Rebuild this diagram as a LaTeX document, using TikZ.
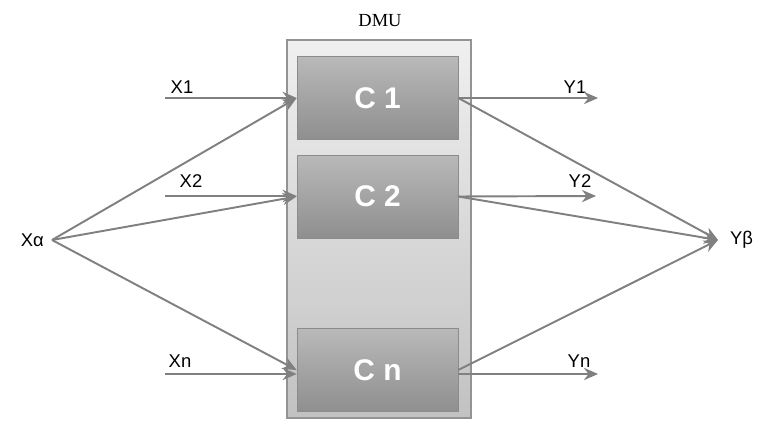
\documentclass[tikz,border=0pt]{standalone}
\usepackage{fontspec}
\setmainfont{Liberation Sans}
\newfontfamily\dmufont{Liberation Serif}
\usetikzlibrary{arrows.meta}
\definecolor{linegray}{RGB}{128,128,128}
\tikzset{
    cell/.style={draw=gray!90,top color=gray!55,bottom color=gray!100!black!88,minimum width=3.22cm,minimum height=1.66cm,inner sep=0pt,text=white,font=\fontsize{17}{19}\selectfont\bfseries},
    flow/.style={draw=linegray,line width=1.1pt,-{Stealth[length=8pt,width=7pt]}},
    lbl/.style={font=\fontsize{10.5}{12}\selectfont,inner sep=1pt}
}
\begin{document}
\begin{tikzpicture}[x=0.02cm,y=-0.02cm]
\useasboundingbox (0,0) rectangle (771,425);
% DMU frame
\node[font=\dmufont\fontsize{10.5}{12}\selectfont] (dmu) at (380,21) {DMU};
\draw[draw=gray!85,line width=0.8pt,top color=gray!12,bottom color=gray!48] (287,40) rectangle (471,418);
% units
\node[cell] (c1) at (377.5,98) {C 1};
\node[cell] (c2) at (377.5,196.5) {C 2};
\node[cell] (cn) at (377.5,370) {C n};
% outside points
\node[lbl,anchor=east] (xa) at (46,240) {X\symbol{"03B1}};
\coordinate (fx) at (52,240);
\coordinate (fy) at (718,240);
\node[lbl,anchor=west] (yb) at (728,240) {Y\symbol{"03B2}};
% inputs
\coordinate (x1s) at (165,98);
\coordinate (x2s) at (165,196);
\coordinate (xns) at (165,374);
\node[lbl] (x1) at (182,87) {X1};
\node[lbl] (x2) at (191,181) {X2};
\node[lbl] (xn) at (180,361) {Xn};
\draw[flow] (x1s) -- (x1s -| c1.west);
\draw[flow] (x2s) -- (x2s -| c2.west);
\draw[flow] (xns) -- (xns -| cn.west);
\draw[flow] (fx) -- (c1.west);
\draw[flow] (fx) -- (c2.west);
\draw[flow] (fx) -- (cn.west);
% outputs
\node[lbl] (y1) at (575,87) {Y1};
\node[lbl] (y2) at (580,181) {Y2};
\node[lbl] (yn) at (579,361) {Yn};
\draw[flow] (c1.east) -- (598,98);
\draw[flow] (c2.east) -- (596,196);
\draw[flow] (cn.east |- 0,374) -- (598,374);
\draw[flow] (c1.east) -- (fy);
\draw[flow] (c2.east) -- (fy);
\draw[flow] (cn.east) -- (fy);
\end{tikzpicture}
\end{document}
